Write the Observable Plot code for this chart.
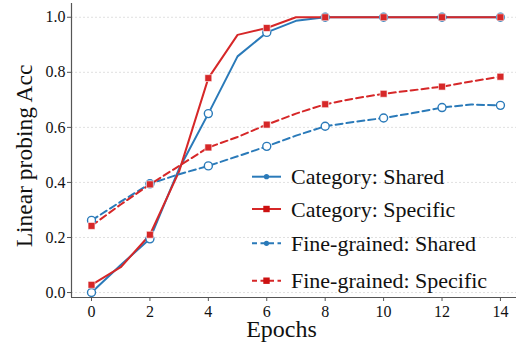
<!DOCTYPE html>
<html>
<head>
<meta charset="utf-8">
<script src="https://cdn.jsdelivr.net/npm/d3@7"></script>
<script src="https://cdn.jsdelivr.net/npm/@observablehq/plot@0.6"></script>
<style>
  html, body { margin: 0; padding: 0; background: #fff; }
  #chart { position: relative; width: 516px; height: 345px; }
  #chart svg text { font-family: 'Liberation Serif', 'DejaVu Serif', serif !important; }
</style>
</head>
<body>
<div id="chart"></div>
<script>
const epochs = [0, 1, 2, 3, 4, 5, 6, 7, 8, 9, 10, 11, 12, 13, 14];
const catShared   = [0.0, 0.10, 0.195, 0.45, 0.65, 0.858, 0.945, 0.987, 1.0, 1.0, 1.0, 1.0, 1.0, 1.0, 1.0];
const catSpecific = [0.028, 0.092, 0.21, 0.44, 0.779, 0.936, 0.961, 1.0, 1.0, 1.0, 1.0, 1.0, 1.0, 1.0, 1.0];
const fineShared  = [0.262, 0.33, 0.395, 0.43, 0.46, 0.495, 0.531, 0.57, 0.604, 0.62, 0.634, 0.652, 0.672, 0.683, 0.68];
const fineSpecific= [0.242, 0.32, 0.393, 0.46, 0.527, 0.565, 0.61, 0.65, 0.684, 0.705, 0.722, 0.735, 0.748, 0.767, 0.784];
const seriesNames = ["Category: Shared", "Category: Specific", "Fine-grained: Shared", "Fine-grained: Specific"];
const xTicks = [0, 2, 4, 6, 8, 10, 12, 14];
const yTicks = [0.0, 0.2, 0.4, 0.6, 0.8, 1.0];
const xLabel = "Epochs";
const yLabel = "Linear probing Acc";

const BLUE = "#2a7ab9";
const RED = "#d62728";
const FONT = "Liberation Serif, DejaVu Serif, serif";

const styles = [
  {stroke: BLUE, dash: null, symbol: "circle"},
  {stroke: RED, dash: null, symbol: "square"},
  {stroke: BLUE, dash: "7,4", symbol: "circle"},
  {stroke: RED, dash: "7,4", symbol: "square"}
];
const allValues = [catShared, catSpecific, fineShared, fineSpecific];
const rows = allValues.map((vals, s) => epochs.map((e, i) => ({epoch: e, acc: vals[i], s})));

const xDomain = [-0.685, 14.55];
const yDomain = [-0.018, 1.05];

const marks = [
  Plot.ruleY(yTicks, {stroke: "#d8d8d8", strokeDasharray: "2,2", strokeWidth: 0.8}),
  Plot.ruleX([xDomain[0]], {stroke: "#555", strokeWidth: 1.2}),
  Plot.ruleY([yDomain[0]], {stroke: "#555", strokeWidth: 1.2}),
];
rows.forEach((data, s) => {
  const st = styles[s];
  marks.push(Plot.line(data, {x: "epoch", y: "acc", stroke: st.stroke, strokeWidth: 2, strokeDasharray: st.dash, curve: "linear"}));
});
rows.forEach((data, s) => {
  const st = styles[s];
  const pts = data.filter(d => d.epoch % 2 === 0);
  if (st.symbol === "circle") {
    marks.push(Plot.dot(pts, {x: "epoch", y: "acc", r: 4, fill: "white", stroke: st.stroke, strokeWidth: 1.4}));
  } else {
    marks.push(Plot.dot(pts, {x: "epoch", y: "acc", symbol: "square", r: 3.9, fill: st.stroke, stroke: "white", strokeWidth: 0.6}));
  }
});
marks.push(
  Plot.axisX({ticks: xTicks, tickSize: 4, tickPadding: 4, fontSize: 16, fontFamily: FONT, label: null, tickFormat: d => String(d), stroke: "#555", fill: "#111"}),
  Plot.axisY({ticks: yTicks, tickSize: 4, tickPadding: 2, fontSize: 16, fontFamily: FONT, label: null, tickFormat: d3.format(".1f"), stroke: "#555", fill: "#111"})
);

const chart = Plot.plot({
  width: 516,
  height: 345,
  marginLeft: 71,
  marginRight: 0,
  marginTop: 3,
  marginBottom: 48,
  x: {domain: xDomain},
  y: {domain: yDomain},
  style: {fontFamily: FONT, fontSize: "16px", color: "#111", background: "white", overflow: "visible"},
  marks
});

const svg = d3.select(chart);
// axis titles
svg.append("text").attr("x", 281.5).attr("y", 337).attr("text-anchor", "middle")
  .attr("font-size", 24).attr("fill", "#111").text(xLabel);
svg.append("text").attr("transform", "translate(32,156) rotate(-90)").attr("text-anchor", "middle")
  .attr("font-size", 23.5).attr("fill", "#111").text(yLabel);

// legend drawn inside the SVG
const legendRows = [176.7, 209, 243.3, 280.7];
const lg = svg.append("g").attr("font-size", 22).attr("fill", "#111").attr("text-anchor", "start");
seriesNames.forEach((name, i) => {
  const st = styles[i];
  const cy = legendRows[i];
  const g = lg.append("g").attr("transform", `translate(252,${cy})`);
  g.append("line").attr("x1", 0).attr("x2", 29).attr("y1", 0).attr("y2", 0)
    .attr("stroke", st.stroke).attr("stroke-width", 2)
    .attr("stroke-dasharray", st.dash ? "5,3.5" : null);
  if (st.symbol === "circle") {
    g.append("circle").attr("cx", 14.5).attr("cy", 0).attr("r", 2.6).attr("fill", st.stroke);
  } else {
    g.append("rect").attr("x", 14.5 - 3.2).attr("y", -3.2).attr("width", 6.4).attr("height", 6.4).attr("fill", "#cc1111");
  }
  lg.append("text").attr("x", 291).attr("y", cy).attr("dy", "0.35em").text(name);
});

document.getElementById("chart").appendChild(chart);
</script>
</body>
</html>
